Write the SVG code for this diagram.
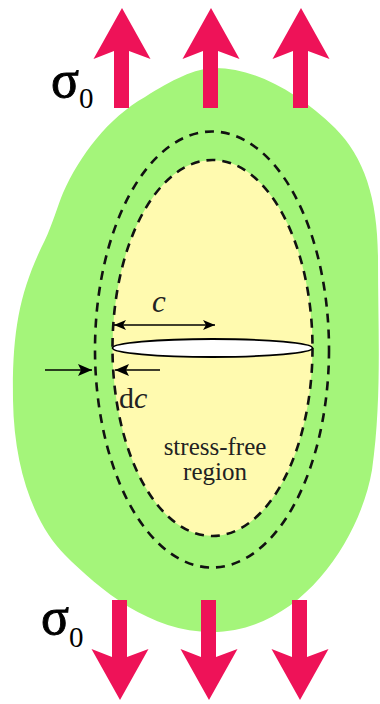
<svg xmlns="http://www.w3.org/2000/svg" width="380" height="704" viewBox="0 0 380 704">
<defs>
<style>
.load{fill:#EE1258;}
.dash{fill:none;stroke:#111;stroke-width:2.6;stroke-dasharray:9 7;}
.dim{stroke:#000;stroke-width:1.6;fill:none;}
.sig{font-family:"Liberation Serif",serif;fill:#000;}
.lbl{font-family:"Liberation Serif",serif;fill:#222;}
</style>
<marker id="ah" viewBox="0 0 12 10" refX="12" refY="5" markerWidth="12" markerHeight="10" markerUnits="userSpaceOnUse" orient="auto-start-reverse">
<path d="M0,0 L12,5 L0,10 L3,5 Z" fill="#000"/>
</marker>
<marker id="ah2" viewBox="0 0 14 12" refX="14" refY="6" markerWidth="14" markerHeight="12" markerUnits="userSpaceOnUse" orient="auto">
<path d="M0,0 L14,6 L0,12 L3,6 Z" fill="#000"/>
</marker>
<path id="upArrow" d="M0,0 L28.5,51 L7,43 L7,100 L-8,100 L-8,43 L-28.5,51 Z"/>
</defs>
<rect width="380" height="704" fill="#fff"/>
<g id="body">
<path d="M215,68 C255,68 298,92 335,128 C365,158 378,200 378,260 C378,330 382,400 372,470 C360,540 300,632 212,632 C150,632 100,590 65,555 C35,525 14,470 13,400 C12,330 20,290 45,240 C52,225 58,205 63,193 C80,155 108,118 145,97 C172,80 195,68 215,68 Z" fill="#A4F57A"/>
</g>
<g id="stress-free-region">
<ellipse cx="212.5" cy="348" rx="100" ry="188" fill="#FFFAAF"/>
<text class="lbl" x="215" y="455" font-size="25" text-anchor="middle">stress-free</text>
<text class="lbl" x="215" y="480" font-size="25" text-anchor="middle">region</text>
</g>
<g id="boundaries">
<ellipse class="dash" cx="212.5" cy="348" rx="100" ry="188"/>
<ellipse class="dash" cx="212" cy="349.5" rx="117" ry="218"/>
</g>
<g id="crack">
<ellipse cx="212.5" cy="348" rx="100" ry="9" fill="#fff" stroke="#000" stroke-width="1.8"/>
</g>
<g id="loads-top" class="load">
<use href="#upArrow" x="122" y="8"/>
<use href="#upArrow" x="211" y="8"/>
<use href="#upArrow" x="301" y="8"/>
</g>
<g id="loads-bottom" class="load">
<use href="#upArrow" transform="translate(120,700) scale(1,-1)"/>
<use href="#upArrow" transform="translate(209,700) scale(1,-1)"/>
<use href="#upArrow" transform="translate(300,700) scale(1,-1)"/>
</g>
<g id="labels">
<text class="sig" x="51" y="97" font-size="52"><tspan stroke="#000" stroke-width="0.9">σ</tspan><tspan font-size="29" dy="11">0</tspan></text>
<text class="sig" x="41" y="634" font-size="52"><tspan stroke="#000" stroke-width="0.9">σ</tspan><tspan font-size="29" dy="13">0</tspan></text>
<text class="lbl" x="152" y="312" font-size="31" font-style="italic" fill="#000">c</text>
<text class="lbl" x="119" y="408" font-size="30" fill="#000">d<tspan font-style="italic">c</tspan></text>
</g>
<g id="connectors">
<line class="dim" x1="114" y1="325" x2="215" y2="325" marker-start="url(#ah)" marker-end="url(#ah)"/>
<line class="dim" x1="45" y1="370" x2="92" y2="370" marker-end="url(#ah2)"/>
<line class="dim" x1="160" y1="370" x2="115" y2="370" marker-end="url(#ah2)"/>
</g>
</svg>
